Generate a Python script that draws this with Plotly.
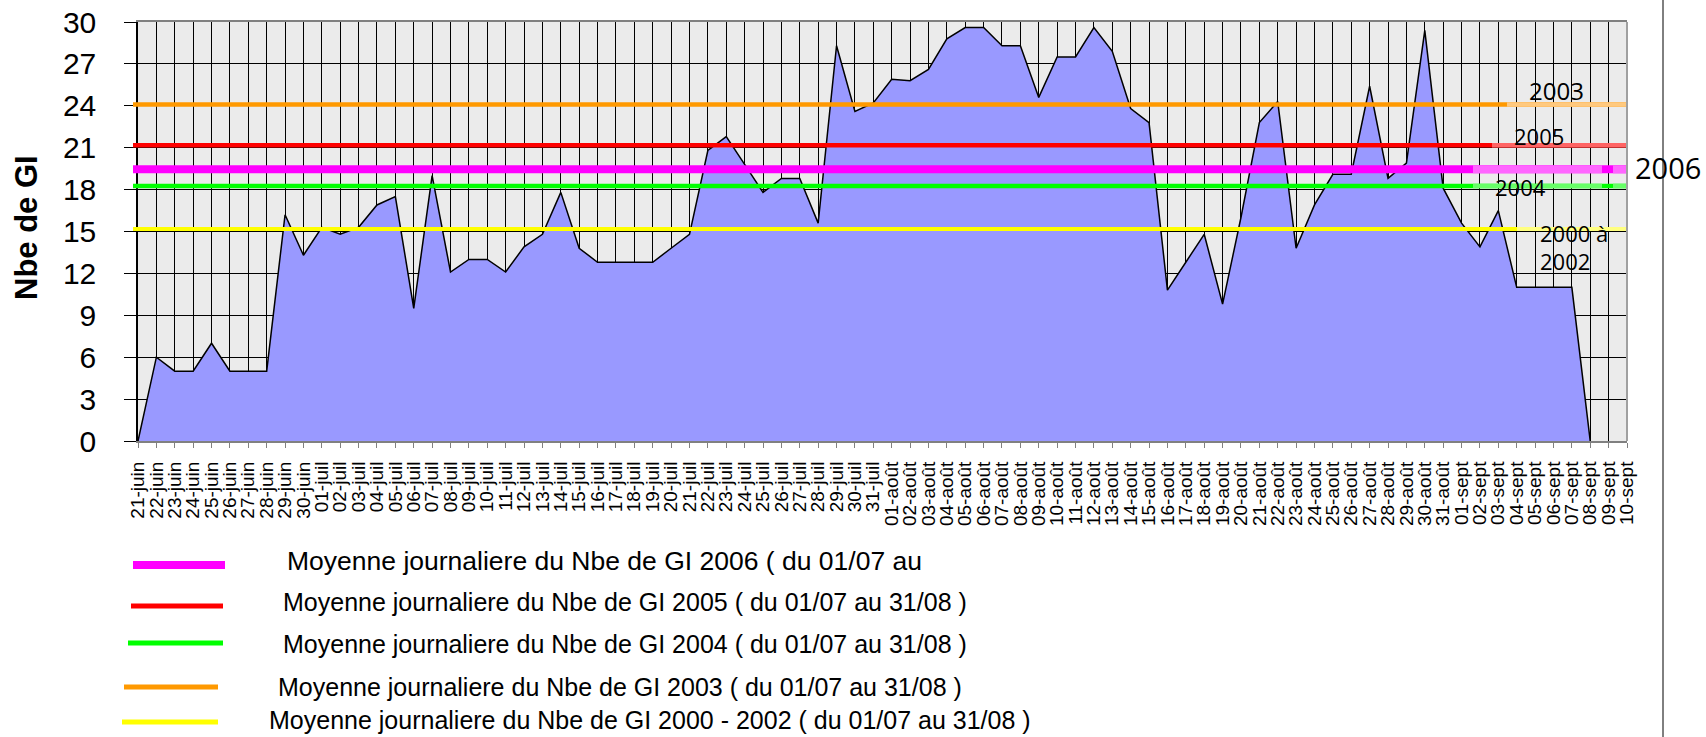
import plotly.graph_objects as go

# ---------------- data ----------------
dates = ([f"{d:02d}-juin" for d in range(21, 31)]
         + [f"{d:02d}-juil" for d in range(1, 32)]
         + [f"{d:02d}-août" for d in range(1, 32)]
         + [f"{d:02d}-sept" for d in range(1, 11)])

gi_2006 = [0, 6, 5, 5, 7, 5, 5, 5, 16.2, 13.3,
           15.3, 14.8, 15.3, 16.9, 17.5, 9.5, 19.0, 12.1, 13.0, 13.0,
           12.1, 13.9, 14.8, 17.8, 13.8, 12.8, 12.8, 12.8, 12.8, 13.8,
           14.8, 20.8, 21.8, 19.8, 17.8, 18.8, 18.8, 15.6, 28.3, 23.6,
           24.2, 25.9, 25.8, 26.6, 28.8, 29.6, 29.6, 28.3, 28.3, 24.6,
           27.5, 27.5, 29.6, 27.9, 23.8, 22.8, 10.8, 12.8, 14.8, 9.8,
           16.0, 22.8, 24.3, 13.8, 16.9, 19.1, 19.1, 25.4, 18.8, 19.9,
           29.4, 18.1, 15.6, 13.9, 16.5, 11, 11, 11, 11, 0,
           None, None]

avg_names = ["2006", "2005", "2004", "2003", "2000 - 2002"]
avg_values = [19.45, 21.17, 18.26, 24.09, 15.18]
avg_colors = ["#FF00FF", "#FF0000", "#00FF00", "#FF9900", "#FFFF00"]
avg_light = ["#FF66FF", "#FF6464", "#66FF66", "#FFC97F", "#FFFF80"]
avg_width = [8, 4.5, 4.5, 4.5, 4]
legend_texts = [
    "Moyenne journaliere du Nbe de GI 2006 ( du 01/07 au",
    "Moyenne journaliere du Nbe de GI 2005 ( du 01/07 au 31/08 )",
    "Moyenne journaliere du Nbe de GI 2004 ( du 01/07 au 31/08 )",
    "Moyenne journaliere du Nbe de GI 2003 ( du 01/07 au 31/08 )",
    "Moyenne journaliere du Nbe de GI 2000 - 2002 ( du 01/07 au 31/08 )",
]
y_ticks = list(range(0, 31, 3))

# ---------------- layout helpers (page pixel -> paper) ----------------
W, H = 1706, 737
PL, PR, PT, PB = 138, 1627, 22, 441   # plot area in pixels
L, R, T, B = PL, W - PR, PT, H - PB


def px(X):
    return (X - PL) / (PR - PL)


def py(Y):
    return (PB - Y) / (PB - PT)


fig = go.Figure()
fig.add_trace(go.Scatter(
    x=dates, y=gi_2006, mode="lines", fill="tozeroy",
    fillcolor="#9999FF", line=dict(color="black", width=1.5),
    showlegend=False, hoverinfo="x+y"))

shapes = []
# average lines over the plot
for v, c, w in zip(avg_values, avg_colors, avg_width):
    shapes.append(dict(type="line", xref="paper", yref="y", x0=px(133), x1=px(1627),
                       y0=v, y1=v, line=dict(color=c, width=w), layer="above"))
# lighter parts behind the year labels
light_spans = {0: [(1473, 1602), (1613, 1627)], 1: [(1492, 1627)],
               2: [(1473, 1602), (1613, 1627)], 3: [(1507, 1627)], 4: [(1517, 1627)]}
for i, spans in light_spans.items():
    for a, b in spans:
        shapes.append(dict(type="line", xref="paper", yref="y", x0=px(a), x1=px(b),
                           y0=avg_values[i], y1=avg_values[i],
                           line=dict(color=avg_light[i], width=avg_width[i]), layer="above"))
# right border of plot area
shapes.append(dict(type="line", xref="paper", yref="paper", x0=1, x1=1, y0=0, y1=1,
                   line=dict(color="#A0A0A0", width=2), layer="above"))
# far right vertical line
shapes.append(dict(type="line", xref="paper", yref="paper", x0=px(1663), x1=px(1663),
                   y0=py(H), y1=py(0), line=dict(color="black", width=1)))

# custom legend
leg_lines = [(133, 225, 565), (131, 223, 606), (128, 223, 643), (124, 218, 687), (122, 218, 722)]
leg_text = [(285, 561), (281, 602), (281, 644), (276, 687), (267, 720)]
leg_w = [8, 5, 5, 5, 5]
leg_size = [26.5, 25, 25, 25, 25]
annotations = []
for i in range(5):
    x0, x1, yy = leg_lines[i]
    shapes.append(dict(type="line", xref="paper", yref="paper", x0=px(x0), x1=px(x1),
                       y0=py(yy), y1=py(yy), line=dict(color=avg_colors[i], width=leg_w[i])))
    tx, ty = leg_text[i]
    annotations.append(dict(xref="paper", yref="paper", x=px(tx), y=py(ty),
                            xanchor="left", yanchor="middle", showarrow=False,
                            text=legend_texts[i],
                            font=dict(family="Liberation Sans, Arial", size=leg_size[i], color="black")))

# year labels near the right edge
year_labels = [("2003", 1527, 91, 24), ("2005", 1512, 136, 22), ("2004", 1493, 187, 22),
               ("2000 à", 1538, 233, 22), ("2002", 1538, 261, 22), ("2006", 1633, 167, 29)]
for t, xx, yy, s in year_labels:
    annotations.append(dict(xref="paper", yref="paper", x=px(xx), y=py(yy),
                            xanchor="left", yanchor="middle", showarrow=False, text=t,
                            font=dict(family="Open Sans, Liberation Sans", size=s, color="black")))

# y axis title
annotations.append(dict(xref="paper", yref="paper", x=px(26), y=py(228), textangle=-90,
                        xanchor="center", yanchor="middle", showarrow=False, text="<b>Nbe de GI</b>",
                        font=dict(family="Liberation Sans, Arial", size=31, color="black")))

fig.update_layout(
    width=W, height=H,
    margin=dict(l=L, r=R, t=T, b=B, pad=0, autoexpand=False),
    paper_bgcolor="white", plot_bgcolor="#EBEBEB",
    shapes=shapes, annotations=annotations, showlegend=False,
    xaxis=dict(type="category", range=[0, len(dates) - 1], automargin=False,
               tickmode="array", tickvals=dates, ticktext=dates, tickangle=-90,
               tickfont=dict(family="Liberation Sans, Arial", size=19, color="black"),
               ticks="outside", ticklen=5, tickcolor="#808080",
               ticklabelstandoff=6, ticklabeloverflow="allow",
               showgrid=True, gridcolor="black", gridwidth=1,
               showline=True, linecolor="#808080", linewidth=2, mirror=True,
               zeroline=False, fixedrange=True),
    yaxis=dict(range=[0, 30], tickmode="array", tickvals=y_ticks, automargin=False,
               tickfont=dict(family="Liberation Sans, Arial", size=30, color="black"),
               ticks="outside", ticklen=12, tickcolor="black",
               ticklabelstandoff=22, ticklabeloverflow="allow",
               showgrid=True, gridcolor="black", gridwidth=1,
               showline=True, linecolor="black", linewidth=1.5,
               zeroline=False, fixedrange=True),
)

# remove the default 8px page margin so the figure fills the window exactly
fig.write_html("out.html", config={"displayModeBar": False},
               post_script="document.body.style.margin='0';document.body.style.overflow='hidden';")
